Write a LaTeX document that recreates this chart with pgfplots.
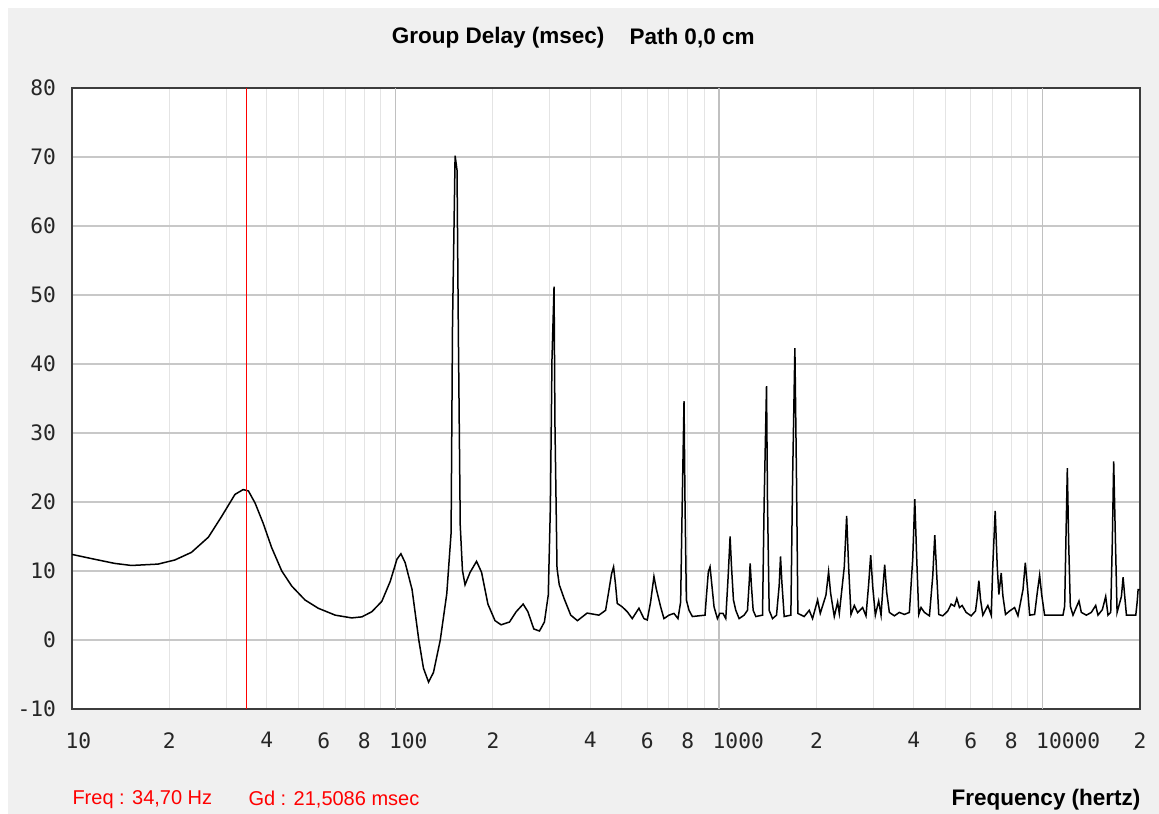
\documentclass[border=0pt]{standalone}
\usepackage{fontspec}
\setmainfont{Liberation Sans}
\setmonofont{DejaVu Sans Mono}
\usepackage{pgfplots}
\usepackage{pgfplotstable}
\pgfplotsset{compat=1.18}

\definecolor{panel}{HTML}{F0F0F0}
\definecolor{minorgrid}{HTML}{E4E4E4}
\definecolor{hgrid}{HTML}{C8C8C8}
\definecolor{decgrid}{HTML}{C0C0C0}
\definecolor{frame}{HTML}{3C3C3C}

% group delay (msec) vs frequency (Hz)
\pgfplotstableread{
f gd
10 12.4
11.75 11.7
13.55 11.1
15.27 10.8
18.46 11.0
20.8 11.6
23.4 12.7
26.4 14.9
29.0 17.9
31.9 21.1
33.8 21.8
35.1 21.6
36.8 19.85
39.0 16.9
41.4 13.4
44.5 10.0
47.8 7.8
52.5 5.8
57.7 4.6
65.1 3.6
73.2 3.2
78.7 3.35
84.5 4.1
90.7 5.6
96.3 8.5
101.0 11.7
103.9 12.5
107.1 11.2
112.5 7.3
118 0
122 -4.1
126.5 -6.1
131 -4.7
137.5 0
144 6.7
148.5 15.5
150 45.6
152.8 70.2
154.9 68.1
156.4 44.3
158.5 16.6
161 10.1
164 8.0
170 9.8
178 11.4
184.5 9.8
193 5.2
203 2.8
212 2.2
225 2.6
236 4.1
248 5.2
256.5 4.1
267.5 1.6
278.5 1.3
288.5 2.6
296.5 6.5
301 19.2
304.5 40.7
309 51.2
311 31.3
315.6 10.4
320.7 8.0
332 6.0
348 3.6
365 2.8
391 3.9
425.2 3.6
445.9 4.3
456.6 7.2
465.3 9.6
472.0 10.6
478.7 8.0
484.5 5.3
502.0 4.8
520.2 4.1
539.1 3.1
565.3 4.6
585.8 3.1
599.9 2.9
614.3 5.5
629.1 9.2
639.7 7.4
659.8 4.8
675.6 3.1
700.1 3.6
725.5 3.85
746.4 3.1
760.8 5.5
770.0 20.7
779.3 34.6
784.8 20.2
792.4 5.8
807.6 4.3
827.0 3.4
904.9 3.6
913.5 6.25
926.6 9.9
937.8 10.6
953.5 7.2
964.9 4.8
988.3 3.1
1004.9 3.85
1028.9 3.85
1048.8 3.1
1066.4 9.1
1081.7 15.0
1092.0 10.8
1107.7 5.8
1126.3 4.3
1153.3 3.1
1195.2 3.6
1224.0 4.3
1238.7 8.2
1247.6 11.1
1259.5 7.7
1274.6 4.3
1299.0 3.4
1362.3 3.6
1378.5 20.2
1401.7 36.8
1411.7 19.95
1428.4 4.3
1462.7 3.1
1505.0 3.6
1534.0 7.9
1548.6 12.1
1563.3 8.4
1589.7 3.4
1667.1 3.6
1686.9 22.8
1715.3 42.3
1735.6 23.1
1752.3 3.85
1833.0 3.4
1899.6 4.3
1945.3 3.1
2016.2 5.8
2054.7 3.85
2139.5 6.5
2180.3 9.9
2211.6 6.8
2270.4 3.4
2325.0 5.5
2352.9 3.85
2437.9 10.6
2479.2 18.0
2514.4 10.6
2557 3.7
2618 5.0
2681 3.96
2778 4.7
2845 3.5
2900 8.1
2942 12.3
2984 7.8
3041 3.6
3114 5.65
3167 3.6
3204 7.1
3250 10.9
3297 6.9
3360 4.0
3482 3.5
3608 4.0
3739 3.7
3875 4.0
3969 11.9
4026 20.4
4083 11.7
4142 3.7
4211 4.7
4312 4.0
4469 3.5
4576 9.3
4642 15.2
4709 9.3
4776 3.7
4914 3.5
5092 4.2
5215 5.2
5340 4.9
5430 6.0
5534 4.7
5640 5.0
5803 4.0
6014 3.5
6203 4.2
6278 6.1
6353 8.6
6428 5.9
6536 3.6
6773 5.0
6936 3.6
7019 11.0
7137 18.7
7240 10.7
7326 6.6
7449 9.7
7538 6.4
7682 3.7
7905 4.2
8193 4.7
8390 3.5
8697 7.3
8842 11.2
8990 7.3
9120 3.6
9447 3.7
9629 6.9
9790 9.4
9931 6.6
10144 3.6
11561 3.6
11700 4.9
11811 15.1
11923 24.9
12035 14.3
12180 4.9
12413 3.6
12955 5.65
13172 4.0
13650 3.6
14145 4.0
14589 5.0
14833 3.6
15299 4.4
15667 6.3
15929 3.6
16236 4.0
16430 14.6
16586 25.9
16788 14.6
16990 4.0
17522 6.3
17733 9.1
17943 6.3
18160 3.6
19409 3.6
19594 5.4
19735 7.3
20000 7.3
}\gdtable

\newcommand{\dec}[1]{\makebox[0.6em][l]{#1}}

\begin{document}
\begin{tikzpicture}
% window background
\fill[white] (0pt,0pt) rectangle (463.6pt,325.6pt);
\fill[panel] (3.2pt,0pt) rectangle (463.6pt,322.4pt);

\begin{axis}[
    at={(28.8pt,42pt)}, anchor=south west,
    width=427.2pt, height=248.4pt, scale only axis,
    xmode=log,
    xmin=10, xmax=20000,
    ymin=-10, ymax=80,
    axis background/.style={fill=white},
    axis line style={frame, line width=0.8pt},
    xtick={10,20,30,40,50,60,70,80,90,100,200,300,400,500,600,700,800,900,1000,2000,3000,4000,5000,6000,7000,8000,9000,10000,20000},
    xticklabels={\dec{10},2,,4,,6,,8,,\dec{100},2,,4,,6,,8,,\dec{1000},2,,4,,6,,8,,\dec{10000},2},
    ytick={-10,0,10,20,30,40,50,60,70,80},
    yticklabels={-10,0,10,20,30,40,50,60,70,80},
    major tick length=0pt,
    minor tick num=0,
    xmajorgrids, ymajorgrids,
    x grid style={minorgrid, line width=0.4pt},
    y grid style={hgrid, line width=0.5pt},
    xticklabel style={font=\ttfamily\fontsize{8.5}{10}\selectfont, text=black!85,
        anchor=north, inner sep=0pt, yshift=-9.2pt},
    yticklabel style={font=\ttfamily\fontsize{8.5}{10}\selectfont, text=black!85,
        anchor=east, inner sep=0pt, xshift=-6.2pt},
    clip=true,
]
% decade grid lines, a little darker
\addplot[decgrid, line width=0.5pt, forget plot] coordinates {(100,-10) (100,80)};
\addplot[decgrid, line width=0.5pt, forget plot] coordinates {(1000,-10) (1000,80)};
\addplot[decgrid, line width=0.5pt, forget plot] coordinates {(10000,-10) (10000,80)};
% group delay curve
\addplot[black, line width=0.6pt, mark=none, line join=miter] table[x=f, y=gd] {\gdtable};
% cursor
\addplot[red, line width=0.5pt] coordinates {(34.7,-10) (34.7,80)};
\end{axis}

% title and status texts
\node[font=\bfseries\fontsize{9}{11}\selectfont, anchor=east, inner sep=0pt] at (242pt,310.4pt) {Group Delay (msec)};
\node[font=\bfseries\fontsize{9}{11}\selectfont, anchor=west, inner sep=0pt] at (251.6pt,310.4pt) {Path 0,0 cm};
\node[font=\fontsize{8}{10}\selectfont, text=red, anchor=west, inner sep=0pt] at (28.8pt,5.6pt) {Freq : 34,70 Hz};
\node[font=\fontsize{8}{10}\selectfont, text=red, anchor=west, inner sep=0pt] at (99.2pt,5.6pt) {Gd : 21,5086 msec};
\node[font=\bfseries\fontsize{9}{11}\selectfont, anchor=east, inner sep=0pt] at (456.4pt,5.6pt) {Frequency (hertz)};
\end{tikzpicture}
\end{document}
